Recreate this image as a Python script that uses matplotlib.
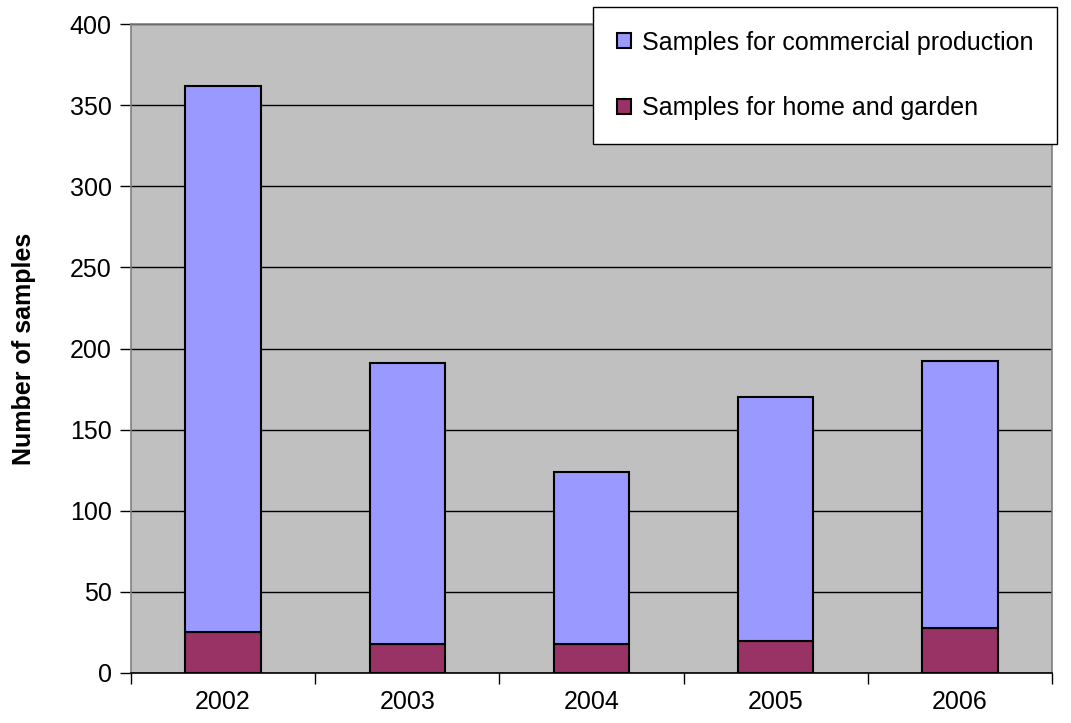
import numpy as np
import matplotlib.pyplot as plt

# data
years = ['2002', '2003', '2004', '2005', '2006']
home = [25, 18, 18, 20, 28]
commercial = [337, 173, 106, 150, 164]

plt.rcParams['font.family'] = ['Liberation Sans', 'DejaVu Sans']
fs = 18

fig = plt.figure(figsize=(10.71, 7.23), dpi=100)
ax = fig.add_axes([131/1071, 50/723, 921/1071, 649/723])
ax.set_facecolor('#C0C0C0')

x = np.arange(len(years))
w = 0.41
ax.bar(x, home, w, color='#993366', edgecolor='black', linewidth=1.5,
       label='Samples for home and garden', zorder=3)
ax.bar(x, commercial, w, bottom=home, color='#9999FF', edgecolor='black',
       linewidth=1.5, label='Samples for commercial production', zorder=3)

ax.set_xlim(-0.5, len(years) - 0.5)
ax.set_ylim(0, 400)
ax.set_yticks(np.arange(0, 401, 50))
ax.yaxis.grid(True, color='black', linewidth=1)
ax.set_axisbelow(True)

# category ticks at boundaries, labels at centers
ax.set_xticks(np.arange(-0.5, len(years), 1))
ax.set_xticklabels([])
ax.set_xticks(x, minor=True)
ax.set_xticklabels(years, minor=True)
ax.tick_params(axis='x', which='major', length=8, width=1, direction='out')
ax.tick_params(axis='x', which='minor', length=0, pad=12, labelsize=fs)
ax.tick_params(axis='y', length=8, width=1, direction='out', labelsize=fs, pad=6)

for s in ['top', 'right', 'left']:
    ax.spines[s].set_color('#808080')
    ax.spines[s].set_linewidth(1.2)
ax.spines['bottom'].set_color('black')
ax.spines['bottom'].set_linewidth(1.2)

ax.set_ylabel('Number of samples', fontsize=fs, fontweight='bold', labelpad=24)

h, l = ax.get_legend_handles_labels()
leg = fig.legend(h[::-1], l[::-1], loc='upper left',
                 bbox_to_anchor=(593/1071, 1 - 7/723), fontsize=fs,
                 frameon=True, fancybox=False, shadow=False, framealpha=1,
                 facecolor='white', edgecolor='black',
                 handlelength=0.55, handleheight=0.55, handletextpad=0.45,
                 labelspacing=1.65, borderpad=0.95, borderaxespad=0)
leg.get_frame().set_linewidth(1)

fig.savefig('out.png', dpi=100)
